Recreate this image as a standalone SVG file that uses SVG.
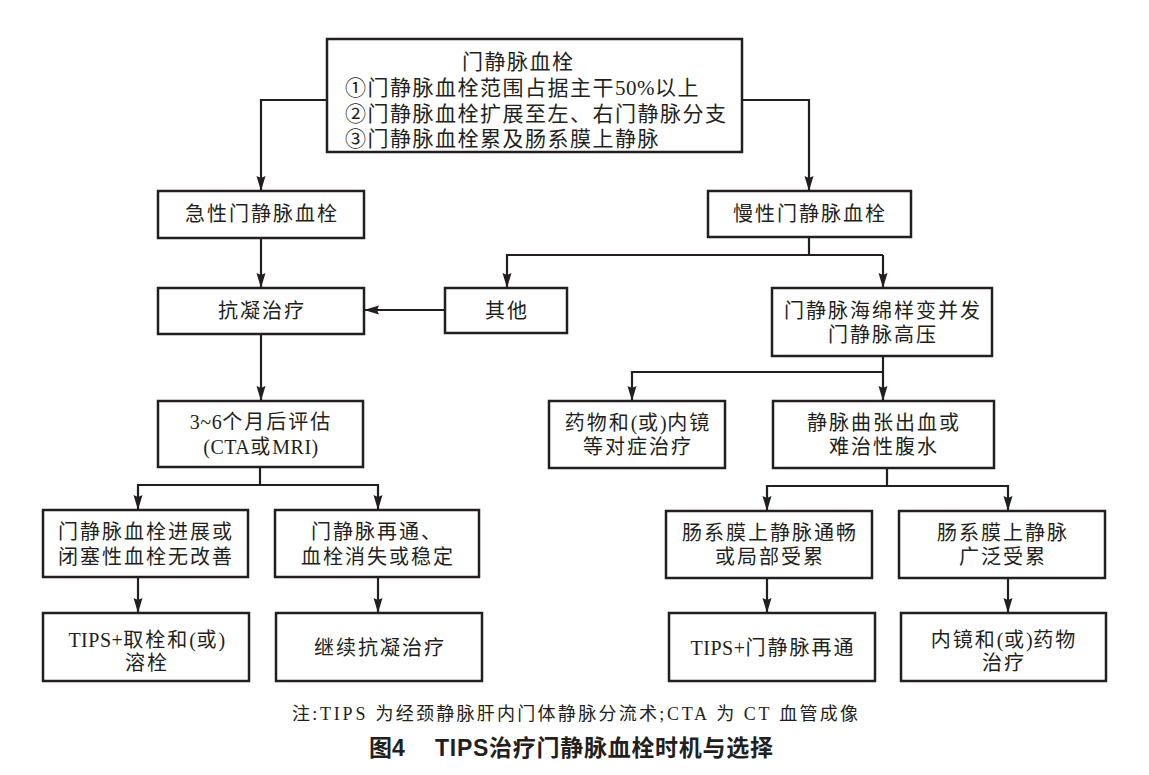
<svg xmlns="http://www.w3.org/2000/svg" width="1149" height="775" viewBox="0 0 1149 775">
<style>
.box{fill:#fff;stroke:#231f20;stroke-width:2.5}
.ln{fill:none;stroke:#231f20;stroke-width:2.2}
.t{font-family:"Liberation Serif","Noto Sans CJK SC",serif;font-size:20px;letter-spacing:2px;fill:#231f20;text-anchor:middle;dominant-baseline:central}
.tl{font-family:"Liberation Serif","Noto Sans CJK SC",serif;font-size:21px;letter-spacing:1.5px;fill:#231f20;dominant-baseline:central}
.cap{font-family:"Liberation Serif","Noto Sans CJK SC",serif;font-size:18px;fill:#231f20;dominant-baseline:central}
.lat{font-family:"Liberation Serif",serif;letter-spacing:0.5px}
.ttl{font-family:"Liberation Sans","Noto Sans CJK SC",sans-serif;font-size:23px;font-weight:bold;fill:#231f20;dominant-baseline:central}
.ltt{font-family:"Liberation Sans",sans-serif}
</style>
<defs>
<marker id="ah" markerUnits="userSpaceOnUse" markerWidth="15" markerHeight="10" refX="15" refY="5" orient="auto">
<path d="M0,0.5 L15,5 L0,9.5 L2,5 z" fill="#231f20"/>
</marker>
</defs>
<rect width="1149" height="775" fill="#fff"/>
<g id="connectors">
<path class="ln" d="M327,100 H261 V191" marker-end="url(#ah)"/>
<path class="ln" d="M742,100 H809 V191" marker-end="url(#ah)"/>
<path class="ln" d="M261,238 V288" marker-end="url(#ah)"/>
<path class="ln" d="M809,237 V255"/>
<path class="ln" d="M883,255 H507 V288" marker-end="url(#ah)"/>
<path class="ln" d="M883,255 V288" marker-end="url(#ah)"/>
<path class="ln" d="M445,310 H364" marker-end="url(#ah)"/>
<path class="ln" d="M261,334 V401" marker-end="url(#ah)"/>
<path class="ln" d="M260,467 V485"/>
<path class="ln" d="M260,485 H138 V510" marker-end="url(#ah)"/>
<path class="ln" d="M260,485 H378 V510" marker-end="url(#ah)"/>
<path class="ln" d="M138,577 V613" marker-end="url(#ah)"/>
<path class="ln" d="M378,577 V613" marker-end="url(#ah)"/>
<path class="ln" d="M883,356 V372"/>
<path class="ln" d="M883,372 H632 V401" marker-end="url(#ah)"/>
<path class="ln" d="M883,372 V401" marker-end="url(#ah)"/>
<path class="ln" d="M887,468 V486"/>
<path class="ln" d="M887,486 H767 V511" marker-end="url(#ah)"/>
<path class="ln" d="M887,486 H1008 V511" marker-end="url(#ah)"/>
<path class="ln" d="M767,578 V613" marker-end="url(#ah)"/>
<path class="ln" d="M1008,578 V613" marker-end="url(#ah)"/>
</g>
<g id="n1">
<rect class="box" x="327" y="39" width="415" height="113"/>
<text class="tl"><tspan x="462" y="62">门静脉血栓</tspan><tspan x="345" y="88">①门静脉血栓范围占据主干<tspan class="lat">50%</tspan>以上</tspan><tspan x="345" y="114">②门静脉血栓扩展至左、右门静脉分支</tspan><tspan x="345" y="139">③门静脉血栓累及肠系膜上静脉</tspan></text>
</g>
<g id="n2"><rect class="box" x="158" y="191" width="206" height="47"/><text class="t" x="262" y="214">急性门静脉血栓</text></g>
<g id="n3"><rect class="box" x="708" y="191" width="203" height="46"/><text class="t" x="810" y="214">慢性门静脉血栓</text></g>
<g id="n4"><rect class="box" x="158" y="288" width="206" height="46"/><text class="t" x="262" y="311">抗凝治疗</text></g>
<g id="n5"><rect class="box" x="445" y="288" width="122" height="45"/><text class="t" x="507" y="311">其他</text></g>
<g id="n6"><rect class="box" x="772" y="288" width="220" height="68"/><text class="t"><tspan x="883" y="311">门静脉海绵样变并发</tspan><tspan x="883" y="335">门静脉高压</tspan></text></g>
<g id="n7"><rect class="box" x="158" y="401" width="205" height="66"/><text class="t"><tspan x="261" y="422"><tspan class="lat">3~6</tspan>个月后评估</tspan><tspan x="261" y="447"><tspan class="lat">(CTA</tspan>或<tspan class="lat">MRI)</tspan></tspan></text></g>
<g id="n8"><rect class="box" x="549" y="401" width="176" height="67"/><text class="t"><tspan x="638" y="423">药物和<tspan class="lat">(</tspan>或<tspan class="lat">)</tspan>内镜</tspan><tspan x="638" y="447">等对症治疗</tspan></text></g>
<g id="n9"><rect class="box" x="773" y="401" width="221" height="67"/><text class="t"><tspan x="884" y="423">静脉曲张出血或</tspan><tspan x="884" y="447">难治性腹水</tspan></text></g>
<g id="n10"><rect class="box" x="43" y="510" width="205" height="67"/><text class="t"><tspan x="146" y="532">门静脉血栓进展或</tspan><tspan x="146" y="557">闭塞性血栓无改善</tspan></text></g>
<g id="n11"><rect class="box" x="275" y="510" width="204" height="67"/><text class="t"><tspan x="377" y="532">门静脉再通、</tspan><tspan x="378" y="557">血栓消失或稳定</tspan></text></g>
<g id="n12"><rect class="box" x="666" y="511" width="206" height="67"/><text class="t"><tspan x="770" y="533">肠系膜上静脉通畅</tspan><tspan x="770" y="557">或局部受累</tspan></text></g>
<g id="n13"><rect class="box" x="899" y="511" width="206" height="67"/><text class="t"><tspan x="1003" y="533">肠系膜上静脉</tspan><tspan x="1003" y="557">广泛受累</tspan></text></g>
<g id="n14"><rect class="box" x="43" y="613" width="206" height="68"/><text class="t"><tspan x="147" y="640"><tspan class="lat">TIPS+</tspan>取栓和<tspan class="lat">(</tspan>或<tspan class="lat">)</tspan></tspan><tspan x="147" y="663">溶栓</tspan></text></g>
<g id="n15"><rect class="box" x="276" y="613" width="206" height="68"/><text class="t" x="380" y="648">继续抗凝治疗</text></g>
<g id="n16"><rect class="box" x="669" y="613" width="206" height="68"/><text class="t" x="773" y="648"><tspan class="lat">TIPS+</tspan>门静脉再通</text></g>
<g id="n17"><rect class="box" x="901" y="613" width="205" height="68"/><text class="t"><tspan x="1004" y="640">内镜和<tspan class="lat">(</tspan>或<tspan class="lat">)</tspan>药物</tspan><tspan x="1004" y="663">治疗</tspan></text></g>
<g id="caption">
<text class="cap" x="292" y="714" textLength="566" lengthAdjust="spacing">注<tspan class="lat">:TIPS </tspan>为经颈静脉肝内门体静脉分流术<tspan class="lat">;CTA </tspan>为<tspan class="lat"> CT </tspan>血管成像</text>
<text class="ttl" x="369" y="748">图<tspan class="ltt">4</tspan></text>
<text class="ttl" x="435" y="748" textLength="338" lengthAdjust="spacing"><tspan class="ltt">TIPS</tspan>治疗门静脉血栓时机与选择</text>
</g>
</svg>
